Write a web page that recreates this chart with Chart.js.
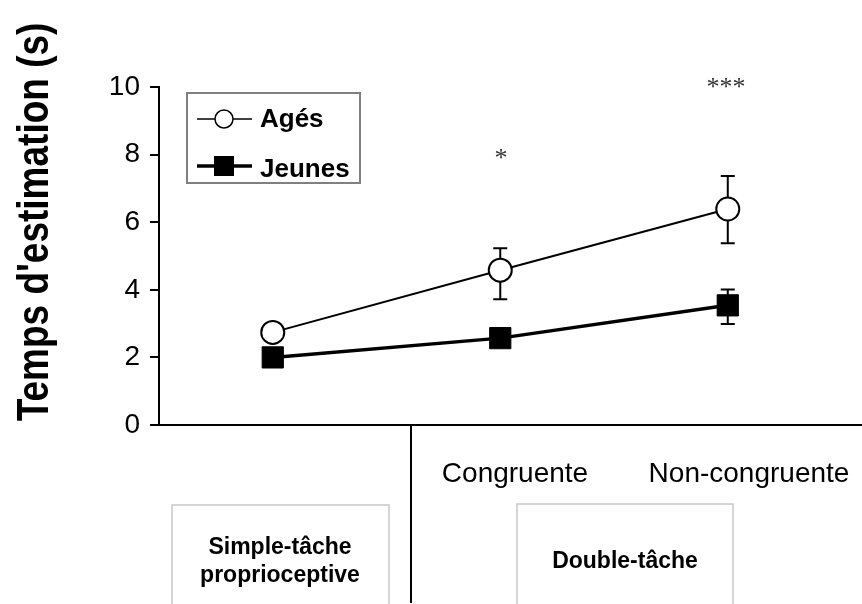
<!DOCTYPE html>
<html>
<head>
<meta charset="utf-8">
<script src="https://cdn.jsdelivr.net/npm/chart.js@4.4.1/dist/chart.umd.min.js"></script>
<style>
  html, body { margin: 0; padding: 0; background: #ffffff; }
  #wrap { width: 862px; height: 604px; }
</style>
</head>
<body>
<div id="wrap"><canvas id="c" width="862" height="604"></canvas></div>
<script>
// ---- Data ----
const categories = ['Simple-tâche proprioceptive', 'Congruente', 'Non-congruente'];
const xPositions = [0, 1, 2];
const agesValues = [2.74, 4.58, 6.39];
const agesErrHigh = [null, 5.23, 7.37];
const agesErrLow = [null, 3.72, 5.38];
const jeunesValues = [2.0, 2.57, 3.54];
const jeunesErrHigh = [null, null, 4.01];
const jeunesErrLow = [null, null, 2.99];
const yTicks = [0, 2, 4, 6, 8, 10];
const significance = ['', '*', '***'];
const seriesNames = ['Agés', 'Jeunes'];
const yTitle = "Temps d'estimation (s)";
const conditionLabels = ['Congruente', 'Non-congruente'];
const groupLabels = [['Simple-tâche', 'proprioceptive'], ['Double-tâche']];

const SANS = '"Liberation Sans", Arial, sans-serif';
const SERIF = '"Liberation Serif", "Times New Roman", serif';

function toPoints(vals) { return vals.map((v, i) => ({ x: xPositions[i], y: v })); }

const overlay = {
  id: 'overlay',
  beforeDraw(chart) {
    const ctx = chart.ctx;
    ctx.save();
    ctx.fillStyle = '#ffffff';
    ctx.fillRect(0, 0, chart.width, chart.height);
    ctx.restore();
  },
  beforeDatasetsDraw(chart) {
    const ctx = chart.ctx;
    const xs = chart.scales.x, ys = chart.scales.y;
    const sets = [[agesErrLow, agesErrHigh], [jeunesErrLow, jeunesErrHigh]];
    ctx.save();
    ctx.strokeStyle = '#000';
    ctx.lineWidth = 2;
    sets.forEach(([lo, hi]) => {
      for (let i = 0; i < xPositions.length; i++) {
        if (hi[i] == null || lo[i] == null) continue;
        const x = xs.getPixelForValue(xPositions[i]);
        const y1 = ys.getPixelForValue(hi[i]);
        const y2 = ys.getPixelForValue(lo[i]);
        ctx.beginPath();
        ctx.moveTo(x, y1); ctx.lineTo(x, y2);
        ctx.moveTo(x - 7, y1); ctx.lineTo(x + 7, y1);
        ctx.moveTo(x - 7, y2); ctx.lineTo(x + 7, y2);
        ctx.stroke();
      }
    });
    ctx.restore();
  },
  afterDraw(chart) {
    const ctx = chart.ctx;
    ctx.save();

    // Y axis title (rotated, glyphs slightly widened like the reference)
    ctx.save();
    ctx.translate(48, 222);
    ctx.rotate(-Math.PI / 2);
    ctx.scale(1, 1.2);
    ctx.fillStyle = '#000';
    ctx.font = 'bold 37px ' + SANS;
    ctx.textAlign = 'center';
    ctx.textBaseline = 'alphabetic';
    ctx.fillText(yTitle, 0, 0);
    ctx.restore();

    // Legend box
    ctx.strokeStyle = '#808080';
    ctx.lineWidth = 2;
    ctx.strokeRect(187, 93, 173, 90);
    // Agés entry
    ctx.strokeStyle = '#000';
    ctx.lineWidth = 1.5;
    ctx.beginPath(); ctx.moveTo(197, 119); ctx.lineTo(252, 119); ctx.stroke();
    ctx.beginPath(); ctx.arc(224, 119, 9, 0, Math.PI * 2);
    ctx.fillStyle = '#fff'; ctx.fill(); ctx.lineWidth = 1.5; ctx.stroke();
    // Jeunes entry
    ctx.lineWidth = 3.5;
    ctx.beginPath(); ctx.moveTo(197, 166); ctx.lineTo(252, 166); ctx.stroke();
    ctx.fillStyle = '#000';
    ctx.fillRect(214, 156, 20, 20);
    ctx.font = 'bold 26px ' + SANS;
    ctx.textAlign = 'left';
    ctx.textBaseline = 'alphabetic';
    ctx.fillText(seriesNames[0], 260, 127);
    ctx.fillText(seriesNames[1], 260, 177);

    // Significance stars
    ctx.fillStyle = '#333';
    ctx.font = '26px ' + SERIF;
    ctx.textAlign = 'center';
    const starPix = [null, [501, 166], [726, 95]];
    significance.forEach((s, i) => {
      if (!s || !starPix[i]) return;
      ctx.fillText(s, starPix[i][0], starPix[i][1]);
    });

    // Condition labels under axis
    ctx.fillStyle = '#000';
    ctx.font = '28px ' + SANS;
    ctx.textAlign = 'center';
    ctx.fillText(conditionLabels[0], 515, 482);
    ctx.fillText(conditionLabels[1], 749, 482);

    // Separator line
    ctx.strokeStyle = '#000';
    ctx.lineWidth = 2;
    ctx.beginPath(); ctx.moveTo(411, chart.chartArea.bottom); ctx.lineTo(411, 603); ctx.stroke();

    // Group boxes
    ctx.strokeStyle = '#c8c8c8';
    ctx.lineWidth = 1.5;
    ctx.beginPath();
    ctx.moveTo(172, 610); ctx.lineTo(172, 505); ctx.lineTo(389, 505); ctx.lineTo(389, 610);
    ctx.moveTo(517, 610); ctx.lineTo(517, 504); ctx.lineTo(733, 504); ctx.lineTo(733, 610);
    ctx.stroke();

    ctx.fillStyle = '#000';
    ctx.font = 'bold 23px ' + SANS;
    ctx.textAlign = 'center';
    ctx.fillText(groupLabels[0][0], 280, 554);
    ctx.fillText(groupLabels[0][1], 280, 582);
    ctx.fillText(groupLabels[1][0], 625, 568);

    ctx.restore();
  }
};

new Chart(document.getElementById('c'), {
  type: 'line',
  data: {
    datasets: [
      {
        label: seriesNames[0],
        data: toPoints(agesValues),
        borderColor: '#000',
        borderWidth: 2,
        pointStyle: 'circle',
        pointRadius: 11.5,
        pointBackgroundColor: '#fff',
        pointBorderColor: '#000',
        pointBorderWidth: 2,
        tension: 0,
        order: 1
      },
      {
        label: seriesNames[1],
        data: toPoints(jeunesValues),
        borderColor: '#000',
        borderWidth: 3.5,
        pointStyle: 'rect',
        pointRadius: 15,
        pointBackgroundColor: '#000',
        pointBorderColor: '#000',
        pointBorderWidth: 1,
        tension: 0,
        order: 0
      }
    ]
  },
  options: {
    responsive: false,
    animation: false,
    devicePixelRatio: 1,
    layout: { autoPadding: false, padding: { top: 87, left: 0, right: 0, bottom: 0 } },
    plugins: { legend: { display: false }, tooltip: { enabled: false } },
    scales: {
      x: {
        type: 'linear',
        min: -0.5,
        max: 2.59,
        ticks: { display: false },
        grid: { display: false },
        border: { display: true, color: '#000', width: 2 },
        afterFit(s) { s.height = 179; }
      },
      y: {
        min: 0,
        max: 10,
        afterBuildTicks(s) { s.ticks = yTicks.map(v => ({ value: v })); },
        ticks: { color: '#000', font: { family: SANS, size: 28 }, padding: 10 },
        grid: { display: true, drawOnChartArea: false, drawTicks: true, tickLength: 9, color: '#000', lineWidth: 2 },
        border: { display: true, color: '#000', width: 2 },
        afterFit(s) { s.width = 159; }
      }
    }
  },
  plugins: [overlay]
});
</script>
</body>
</html>
